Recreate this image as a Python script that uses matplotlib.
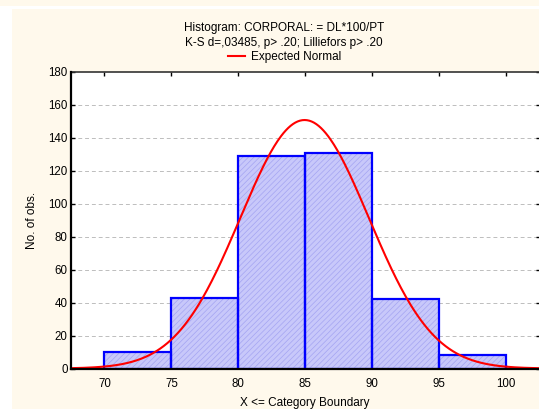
import numpy as np
import matplotlib
matplotlib.use("Agg")
import matplotlib.pyplot as plt
from matplotlib.patches import Rectangle

plt.rcParams['font.family'] = ['Liberation Sans', 'DejaVu Sans']
plt.rcParams['hatch.linewidth'] = 0.5

# Histogram data: category boundaries and counts
bin_edges = [70, 75, 80, 85, 90, 95, 100]
counts = [10, 43, 129, 131, 42, 8]

# Fitted normal parameters
fit_mean = 84.95
fit_sd = 4.8

title_line1 = "Histogram: CORPORAL: = DL*100/PT"
title_line2 = "K-S d=,03485, p> .20; Lilliefors p> .20"
legend_label = "Expected Normal"
x_label = "X <= Category Boundary"
y_label = "No. of obs."
x_ticks = [70, 75, 80, 85, 90, 95, 100]
y_ticks = [0, 20, 40, 60, 80, 100, 120, 140, 160, 180]

W, H = 539, 409
fig = plt.figure(figsize=(W / 100, H / 100), dpi=100)
fig.patch.set_facecolor('white')

cream = '#FFF9EC'
# top strip and main panel
fig.add_artist(Rectangle((0, 1 - 6 / H), 1, 6 / H, transform=fig.transFigure,
                         facecolor=cream, edgecolor='none', zorder=-10))
fig.add_artist(Rectangle((12 / W, 0), 1 - 12 / W, 1 - 9 / H, transform=fig.transFigure,
                         facecolor=cream, edgecolor='none', zorder=-10))

left_px, right_px, top_px, bottom_px = 71, 539.5, 72, 368.5
ax = fig.add_axes([left_px / W, (H - bottom_px) / H,
                   (right_px - left_px) / W, (bottom_px - top_px) / H])
ax.set_facecolor('white')
ax.set_xlim(67.5, 102.5)
ax.set_ylim(0, 180)

# dashed horizontal grid
for yv in y_ticks[1:-1]:
    ax.axhline(yv, color='#BDBDBD', lw=0.7, ls=(0, (4, 3)), zorder=1)

# bars: hatched fill, then blue outline
lefts = bin_edges[:-1]
widths = np.diff(bin_edges)
ax.bar(lefts, counts, width=widths, align='edge', color='#C8C8FA',
       edgecolor='#A4A4F2', hatch='//////', linewidth=0, zorder=2)
ax.bar(lefts, counts, width=widths, align='edge', fill=False,
       edgecolor='#0000FF', linewidth=1.6, zorder=3)

# expected normal curve scaled to counts per category
n_total = sum(counts)
bin_w = bin_edges[1] - bin_edges[0]
xs = np.linspace(67.5, 102.5, 400)
ys = n_total * bin_w * np.exp(-0.5 * ((xs - fit_mean) / fit_sd) ** 2) / (fit_sd * np.sqrt(2 * np.pi))
ax.plot(xs, ys, color='#FF0000', lw=1.5, zorder=4, clip_on=True)

ax.set_xticks(x_ticks)
ax.set_yticks(y_ticks)
ax.tick_params(axis='both', direction='in', length=3, width=1, labelsize=8.3,
               top=True, right=True, colors='black')
ax.tick_params(axis='x', pad=7)
ax.tick_params(axis='y', pad=2.5)

for side in ['left', 'bottom']:
    ax.spines[side].set_linewidth(1.6)
    ax.spines[side].set_zorder(5)
ax.spines['top'].set_linewidth(1.2)
ax.spines['top'].set_color('#333333')
ax.spines['right'].set_linewidth(1.2)

ax.set_xlabel(x_label, fontsize=8.5, labelpad=5)
ax.set_ylabel(y_label, fontsize=8.5, labelpad=7)

# titles and legend above the plot
fig.text(284 / W, 1 - 31 / H, title_line1, ha='center', va='baseline', fontsize=8.5)
fig.text(284 / W, 1 - 46 / H, title_line2, ha='center', va='baseline', fontsize=8.5)
fig.add_artist(plt.Line2D([228 / W, 245 / W], [1 - 56 / H, 1 - 56 / H],
                          transform=fig.transFigure, color='#FF0000', lw=1.5))
fig.text(251 / W, 1 - 60 / H, legend_label, ha='left', va='baseline', fontsize=8.5)

fig.savefig('out.png', dpi=100)
